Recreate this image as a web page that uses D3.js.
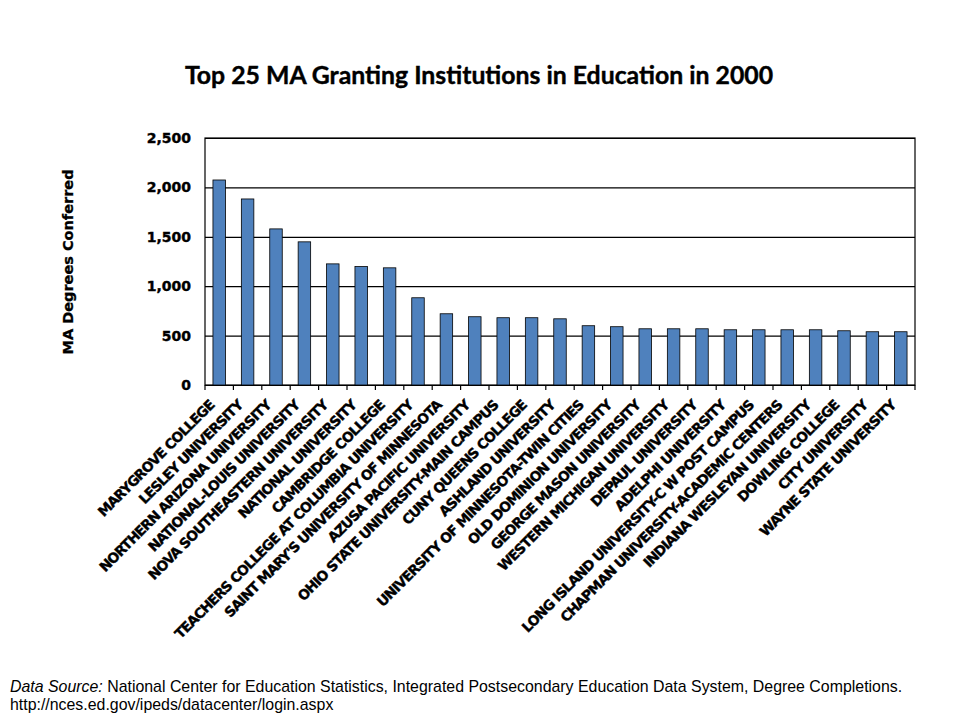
<!DOCTYPE html>
<html>
<head>
<meta charset="utf-8">
<script src="https://cdn.jsdelivr.net/npm/d3@7"></script>
<style>
  body { margin: 0; background: #fff; }
  svg { display: block; }
</style>
</head>
<body>
<svg class="chart" width="960" height="720"></svg>
<script>
// Data
var institutions = [
    'MARYGROVE COLLEGE',
    'LESLEY UNIVERSITY',
    'NORTHERN ARIZONA UNIVERSITY',
    'NATIONAL-LOUIS UNIVERSITY',
    'NOVA SOUTHEASTERN UNIVERSITY',
    'NATIONAL UNIVERSITY',
    'CAMBRIDGE COLLEGE',
    'TEACHERS COLLEGE AT COLUMBIA UNIVERSITY',
    "SAINT MARY'S UNIVERSITY OF MINNESOTA",
    'AZUSA PACIFIC UNIVERSITY',
    'OHIO STATE UNIVERSITY-MAIN CAMPUS',
    'CUNY QUEENS COLLEGE',
    'ASHLAND UNIVERSITY',
    'UNIVERSITY OF MINNESOTA-TWIN CITIES',
    'OLD DOMINION UNIVERSITY',
    'GEORGE MASON UNIVERSITY',
    'WESTERN MICHIGAN UNIVERSITY',
    'DEPAUL UNIVERSITY',
    'ADELPHI UNIVERSITY',
    'LONG ISLAND UNIVERSITY-C W POST CAMPUS',
    'CHAPMAN UNIVERSITY-ACADEMIC CENTERS',
    'INDIANA WESLEYAN UNIVERSITY',
    'DOWLING COLLEGE',
    'CITY UNIVERSITY',
    'WAYNE STATE UNIVERSITY'
];
var degrees = [2075, 1883, 1580, 1449, 1226, 1199, 1186, 883, 721, 691,
               681, 681, 670, 600, 590, 569, 569, 569, 559, 559,
               559, 559, 549, 539, 539];
var yTicks = [0, 500, 1000, 1500, 2000, 2500];

(function() {
    var p = {};
        p.title = 'Top 25 MA Granting Institutions in Education in 2000';
        p.yLabel = 'MA Degrees Conferred';
        p.margin = {top: 138, left: 205};
        p.width = 710;
        p.height = 247;
        p.barColor = '#4f81bd';

    var data = institutions.map(function(name, i) {
        return {name: name, value: degrees[i]};
    });

    var svg = d3.select('.chart');

    svg.append('text')
        .text(p.title)
        .attr('x', 479)
        .attr('y', 84)
        .attr('text-anchor', 'middle')
        .attr('font-family', 'Lato, "Open Sans", sans-serif')
        .attr('font-weight', 'bold')
        .attr('font-size', 24.8)
        .attr('stroke', '#000')
        .attr('stroke-width', 0.4)
    ;

    svg.append('text')
        .text(p.yLabel)
        .attr('transform', 'translate(73,262) rotate(-90)')
        .attr('text-anchor', 'middle')
        .attr('font-family', '"DejaVu Sans", sans-serif')
        .attr('font-weight', 'bold')
        .attr('font-size', 14.5)
        .attr('stroke', '#000')
        .attr('stroke-width', 0.3)
    ;

    var chart = svg.append('g')
        .attr('transform', 'translate(' + p.margin.left + ',' + p.margin.top + ')')
    ;

    //-----  Scales  -----//
    var x = d3.scaleBand()
        .domain(institutions)
        .range([0, p.width])
        .paddingInner(0.56)
        .paddingOuter(0.28)
    ;
    var y = d3.scaleLinear()
        .domain([0, 2500])
        .range([p.height, 0])
    ;

    //-----  Gridlines + Y axis  -----//
    var yAxis = chart.append('g')
        .attr('class', 'yaxis')
        .call(d3.axisLeft(y)
            .tickValues(yTicks)
            .tickFormat(d3.format(','))
            .tickSizeInner(-p.width)
            .tickSizeOuter(0))
    ;
    yAxis.select('.domain').remove();
    yAxis.selectAll('.tick line')
        .attr('stroke', '#000')
        .attr('stroke-width', 1.2)
    ;
    yAxis.selectAll('.tick text')
        .attr('x', -14)
        .attr('fill', '#000')
        .attr('stroke', '#000')
        .attr('stroke-width', 0.4)
        .attr('font-family', '"DejaVu Sans", sans-serif')
        .attr('font-weight', 'bold')
        .attr('font-size', 14)
    ;

    // plot frame
    chart.append('rect')
        .attr('x', 0)
        .attr('y', 0)
        .attr('width', p.width)
        .attr('height', p.height)
        .attr('fill', 'none')
        .attr('stroke', '#000')
        .attr('stroke-width', 1.2)
    ;

    //-----  Bars  -----//
    chart.selectAll('rect.bar')
        .data(data)
        .enter().append('rect')
            .attr('class', 'bar')
            .attr('x', function(d) { return x(d.name); })
            .attr('y', function(d) { return y(d.value); })
            .attr('width', x.bandwidth())
            .attr('height', function(d) { return p.height - y(d.value); })
            .attr('fill', p.barColor)
            .attr('stroke', '#000')
            .attr('stroke-width', 0.8)
    ;

    //-----  X axis: tick marks at band boundaries  -----//
    var step = x.step();
    var bounds = d3.range(institutions.length + 1).map(function(i) {
        return x(institutions[0]) - step * 0.28 + i * step;
    });
    chart.append('g')
        .attr('class', 'xticks')
        .selectAll('line')
        .data(bounds)
        .enter().append('line')
            .attr('x1', function(d) { return d; })
            .attr('x2', function(d) { return d; })
            .attr('y1', p.height)
            .attr('y2', p.height + 5)
            .attr('stroke', '#000')
            .attr('stroke-width', 1.2)
    ;

    chart.append('g')
        .attr('class', 'xlabels')
        .selectAll('text')
        .data(data)
        .enter().append('text')
            .text(function(d) { return d.name; })
            .attr('transform', function(d) {
                var cx = x(d.name) + x.bandwidth() / 2 - 4;
                return 'translate(' + cx + ',' + (p.height + 21) + ') rotate(-45)';
            })
            .attr('text-anchor', 'end')
            .attr('font-family', '"DejaVu Sans", sans-serif')
            .attr('font-weight', 'bold')
            .attr('font-size', 13.8)
            .attr('letter-spacing', -0.85)
            .attr('stroke', '#000')
            .attr('stroke-width', 0.4)
    ;

    //-----  Footer  -----//
    var src = svg.append('text')
        .attr('x', 10)
        .attr('y', 692)
        .attr('font-family', '"Liberation Sans", Arial, sans-serif')
        .attr('font-size', 15.9)
    ;
    src.append('tspan')
        .attr('font-style', 'italic')
        .text('Data Source:');
    src.append('tspan')
        .text(' National Center for Education Statistics, Integrated Postsecondary Education Data System, Degree Completions.');
    svg.append('text')
        .attr('x', 10)
        .attr('y', 710)
        .attr('font-family', '"Liberation Sans", Arial, sans-serif')
        .attr('font-size', 15.9)
        .text('http://nces.ed.gov/ipeds/datacenter/login.aspx')
    ;
})();
</script>
</body>
</html>
